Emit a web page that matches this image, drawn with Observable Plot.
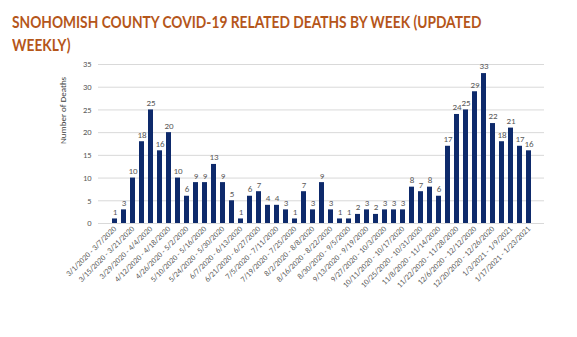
<!DOCTYPE html>
<html>
<head>
<meta charset="utf-8">
<script src="https://cdn.jsdelivr.net/npm/d3@7"></script>
<script src="https://cdn.jsdelivr.net/npm/@observablehq/plot@0.6"></script>
<style>
  body { margin: 0; background: #fff; width: 577px; height: 337px; overflow: hidden; position: relative; }
  #title { position: absolute; top: 10px; left: 12px; font-family: Lato, "Open Sans", sans-serif; font-weight: bold; font-size: 17px; color: #b5561a; line-height: 23px; white-space: nowrap; transform: scaleX(0.81); transform-origin: 0 0; }
  #chart { position: absolute; top: 56px; left: 0; }
</style>
</head>
<body>
<div id="title">SNOHOMISH COUNTY COVID-19 RELATED DEATHS BY WEEK (UPDATED<br>WEEKLY)</div>
<div id="chart"></div>
<script>
const weeks = [
  "3/1/2020 - 3/7/2020","3/8/2020 - 3/14/2020","3/15/2020 - 3/21/2020","3/22/2020 - 3/28/2020",
  "3/29/2020 - 4/4/2020","4/5/2020 - 4/11/2020","4/12/2020 - 4/18/2020","4/19/2020 - 4/25/2020",
  "4/26/2020 - 5/2/2020","5/3/2020 - 5/9/2020","5/10/2020 - 5/16/2020","5/17/2020 - 5/23/2020",
  "5/24/2020 - 5/30/2020","5/31/2020 - 6/6/2020","6/7/2020 - 6/13/2020","6/14/2020 - 6/20/2020",
  "6/21/2020 - 6/27/2020","6/28/2020 - 7/4/2020","7/5/2020 - 7/11/2020","7/12/2020 - 7/18/2020",
  "7/19/2020 - 7/25/2020","7/26/2020 - 8/1/2020","8/2/2020 - 8/8/2020","8/9/2020 - 8/15/2020",
  "8/16/2020 - 8/22/2020","8/23/2020 - 8/29/2020","8/30/2020 - 9/5/2020","9/6/2020 - 9/12/2020",
  "9/13/2020 - 9/19/2020","9/20/2020 - 9/26/2020","9/27/2020 - 10/3/2020","10/4/2020 - 10/10/2020",
  "10/11/2020 - 10/17/2020","10/18/2020 - 10/24/2020","10/25/2020 - 10/31/2020","11/1/2020 - 11/7/2020",
  "11/8/2020 - 11/14/2020","11/15/2020 - 11/21/2020","11/22/2020 - 11/28/2020","11/29/2020 - 12/5/2020",
  "12/6/2020 - 12/12/2020","12/13/2020 - 12/19/2020","12/20/2020 - 12/26/2020","12/27/2020 - 1/2/2021",
  "1/3/2021 - 1/9/2021","1/10/2021 - 1/16/2021","1/17/2021 - 1/23/2021"
];
const deaths = [1,3,10,18,25,16,20,10,6,9,9,13,9,5,1,6,7,4,4,3,1,7,3,9,3,1,1,2,3,2,3,3,3,8,7,8,6,17,24,25,29,33,22,18,21,17,16];
const yTicks = [0,5,10,15,20,25,30,35];
const tickWeeks = weeks.filter((d, i) => i % 2 === 0);

const data = weeks.map((w, i) => ({week: w, deaths: deaths[i]}));

const chart = Plot.plot({
  width: 577,
  height: 281,
  marginTop: 8,
  marginBottom: 114,
  marginLeft: 98,
  marginRight: 33,
  style: {fontFamily: "Carlito, Calibri, 'Liberation Sans', sans-serif", fontSize: "8px", color: "#595959", background: "#fff"},
  x: {domain: weeks, padding: 0.46, label: null},
  y: {domain: [0, 35], label: null},
  marks: [
    Plot.gridY(yTicks, {stroke: "#d9d9d9", strokeOpacity: 1}),
    Plot.axisY(yTicks, {tickSize: 0, tickPadding: 7, fontSize: 8.5, fill: "#595959"}),
    Plot.axisX(tickWeeks, {tickSize: 0, tickRotate: -45, tickPadding: 4, fontSize: 8, fill: "#595959"}),
    Plot.barY(data, {x: "week", y: "deaths", fill: "#0e2a6b"}),
    Plot.text(data, {x: "week", y: "deaths", text: d => String(d.deaths), dy: -7, fontSize: 9, fill: "#595959"}),
    Plot.text(["Number of Deaths"], {frameAnchor: "left", dx: -35, rotate: -90, fontSize: 9, fill: "#404040"})
  ]
});
document.getElementById("chart").appendChild(chart);
</script>
</body>
</html>
